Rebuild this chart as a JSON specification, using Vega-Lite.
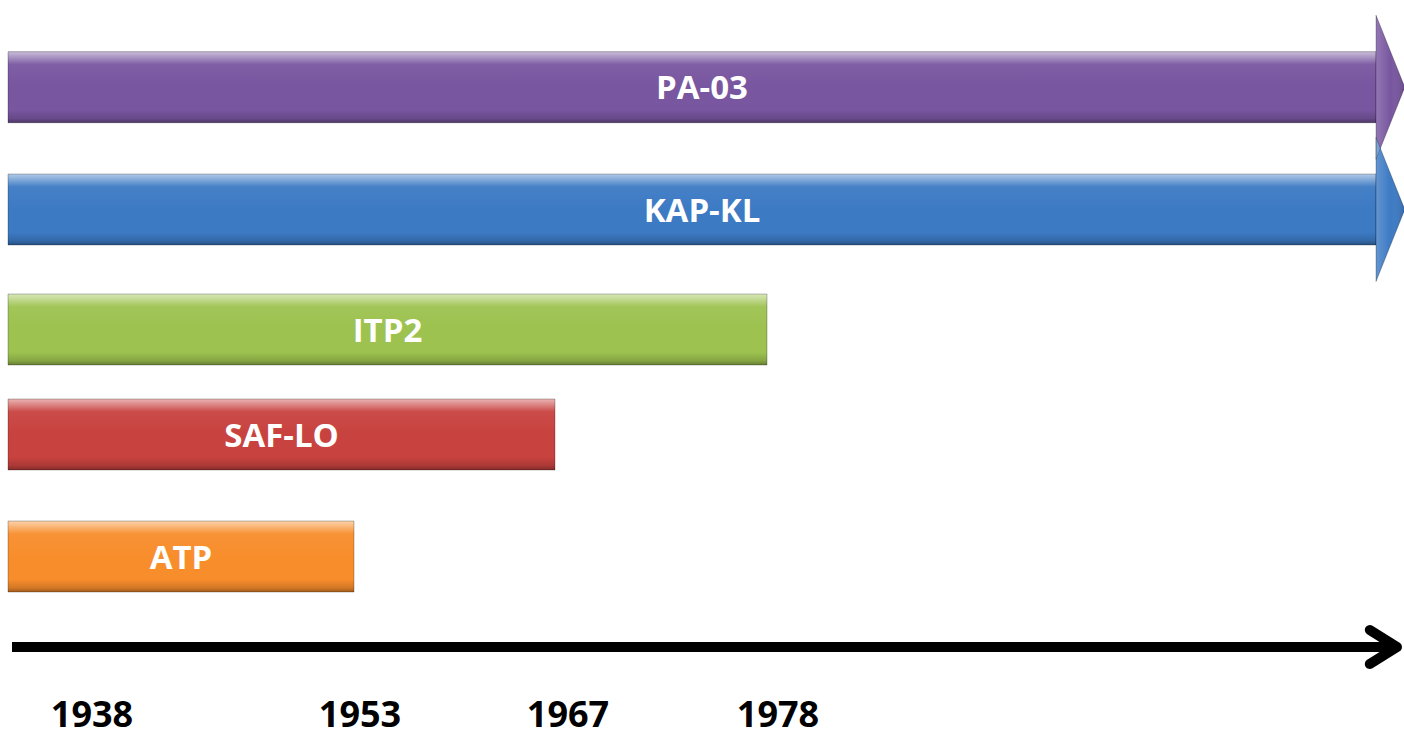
{
  "$schema": "https://vega.github.io/schema/vega-lite/v6.json",
  "width": 1404,
  "height": 741,
  "autosize": "none",
  "padding": 0,
  "background": "white",
  "config": {"view": {"stroke": null}},
  "datasets": {
    "programs": [
      {"name": "PA-03", "start": 1938, "end": 2020, "lane": 0, "ongoing": true},
      {"name": "KAP-KL", "start": 1938, "end": 2020, "lane": 1, "ongoing": true},
      {"name": "ITP2", "start": 1938, "end": 1978, "lane": 2, "ongoing": false},
      {"name": "SAF-LO", "start": 1938, "end": 1967, "lane": 3, "ongoing": false},
      {"name": "ATP", "start": 1938, "end": 1953, "lane": 4, "ongoing": false}
    ],
    "timeline": [{"from": 1938, "to": 2021}],
    "years": [{"year": 1938}, {"year": 1953}, {"year": 1967}, {"year": 1978}]
  },
  "resolve": {"scale": {"x": "independent"}},
  "layer": [
    {
      "data": {"name": "programs"},
      "mark": {"type": "bar", "height": 71},
      "encoding": {
        "x": {"field": "start", "type": "quantitative", "axis": null,
              "scale": {"type": "linear", "domain": [1938, 1953, 1967, 1978, 2020, 2021], "range": [8, 354, 555, 767, 1376, 1397], "nice": false, "zero": false}},
        "x2": {"field": "end"},
        "y": {"field": "lane", "type": "quantitative", "axis": null,
              "scale": {"type": "linear", "domain": [0, 1, 2, 3, 4, 5, 6], "range": [81.5, 209.5, 329.5, 434.5, 556.5, 647, 731], "nice": false, "zero": false}},
        "color": {"field": "name", "type": "nominal", "legend": null,
                  "scale": {"domain": ["PA-03", "KAP-KL", "ITP2", "SAF-LO", "ATP"], "range": ["#7856A0", "#3C7AC4", "#9DC24F", "#C8423F", "#F88D2C"]}}
      }
    },
    {
      "data": {"name": "programs"},
      "mark": {"type": "bar", "height": 71, "stroke": "rgba(0,0,0,0.25)", "strokeWidth": 1,
               "color": {"gradient": "linear", "x1": 0, "y1": 0, "x2": 0, "y2": 1,
                         "stops": [
                           {"offset": 0, "color": "rgba(255,255,255,0.6)"},
                           {"offset": 0.05, "color": "rgba(255,255,255,0.45)"},
                           {"offset": 0.18, "color": "rgba(255,255,255,0.05)"},
                           {"offset": 0.5, "color": "rgba(255,255,255,0)"},
                           {"offset": 0.82, "color": "rgba(0,0,0,0)"},
                           {"offset": 0.94, "color": "rgba(0,0,0,0.15)"},
                           {"offset": 1, "color": "rgba(0,0,0,0.35)"}
                         ]}},
      "encoding": {
        "x": {"field": "start", "type": "quantitative", "axis": null,
              "scale": {"type": "linear", "domain": [1938, 1953, 1967, 1978, 2020, 2021], "range": [8, 354, 555, 767, 1376, 1397], "nice": false, "zero": false}},
        "x2": {"field": "end"},
        "y": {"field": "lane", "type": "quantitative", "axis": null}
      }
    },
    {
      "data": {"name": "programs"},
      "transform": [{"filter": {"field": "ongoing", "equal": true}}],
      "mark": {"type": "point", "shape": "M0,-1 L0.4,0 L0,1 Z", "size": 20736, "filled": true, "opacity": 1, "strokeWidth": 0},
      "encoding": {
        "x": {"field": "end", "type": "quantitative", "axis": null,
              "scale": {"type": "linear", "domain": [1938, 1953, 1967, 1978, 2020, 2021], "range": [8, 354, 555, 767, 1376, 1397], "nice": false, "zero": false}},
        "y": {"field": "lane", "type": "quantitative", "axis": null},
        "color": {"field": "name", "type": "nominal", "legend": null}
      }
    },
    {
      "data": {"name": "programs"},
      "transform": [{"filter": {"field": "ongoing", "equal": true}}],
      "mark": {"type": "point", "shape": "M0,-1 L0.4,0 L0,1 Z", "size": 20736, "filled": true, "opacity": 1, "stroke": "rgba(0,0,0,0.25)", "strokeWidth": 1,
               "fill": {"gradient": "linear", "x1": 0, "y1": 0, "x2": 1, "y2": 0,
                        "stops": [
                          {"offset": 0, "color": "rgba(255,255,255,0.2)"},
                          {"offset": 0.5, "color": "rgba(255,255,255,0)"},
                          {"offset": 1, "color": "rgba(0,0,0,0.15)"}
                        ]}},
      "encoding": {
        "x": {"field": "end", "type": "quantitative", "axis": null,
              "scale": {"type": "linear", "domain": [1938, 1953, 1967, 1978, 2020, 2021], "range": [8, 354, 555, 767, 1376, 1397], "nice": false, "zero": false}},
        "y": {"field": "lane", "type": "quantitative", "axis": null}
      }
    },
    {
      "data": {"name": "programs"},
      "mark": {"type": "text", "font": "Open Sans", "fontWeight": "bold", "fontSize": 33, "color": "white", "align": "center", "baseline": "middle", "dy": 2,
               "x": {"expr": "(scale('layer_0_x', datum.start) + scale('layer_0_x', datum.end)) / 2 + (datum.ongoing ? 10 : 0)"}},
      "encoding": {
        "y": {"field": "lane", "type": "quantitative", "axis": null},
        "text": {"field": "name"}
      }
    },
    {
      "data": {"name": "timeline"},
      "mark": {"type": "rule", "strokeWidth": 10, "color": "black", "strokeCap": "butt"},
      "encoding": {
        "x": {"field": "from", "type": "quantitative", "axis": null,
              "scale": {"type": "linear", "domain": [1938, 1953, 1967, 1978, 2020, 2021], "range": [12, 354, 555, 767, 1376, 1397], "nice": false, "zero": false}},
        "x2": {"field": "to"},
        "y": {"datum": 5, "type": "quantitative", "axis": null}
      }
    },
    {
      "data": {"name": "timeline"},
      "mark": {"type": "point", "shape": "M-1.6,-1 L0,0 L-1.6,1", "size": 1156, "filled": false, "opacity": 1, "color": "black", "strokeWidth": 10, "strokeCap": "round", "strokeJoin": "round"},
      "encoding": {
        "x": {"field": "to", "type": "quantitative", "axis": null,
              "scale": {"type": "linear", "domain": [1938, 1953, 1967, 1978, 2020, 2021], "range": [8, 354, 555, 767, 1376, 1397], "nice": false, "zero": false}},
        "y": {"datum": 5, "type": "quantitative", "axis": null}
      }
    },
    {
      "data": {"name": "years"},
      "mark": {"type": "text", "font": "Open Sans", "fontWeight": "bold", "fontSize": 36, "color": "black", "align": "center", "baseline": "alphabetic"},
      "encoding": {
        "x": {"field": "year", "type": "quantitative", "axis": null,
              "scale": {"type": "linear", "domain": [1938, 1953, 1967, 1978], "range": [92, 360, 568, 778], "nice": false, "zero": false}},
        "y": {"datum": 6, "type": "quantitative", "axis": null},
        "text": {"field": "year", "type": "nominal"}
      }
    }
  ]
}
